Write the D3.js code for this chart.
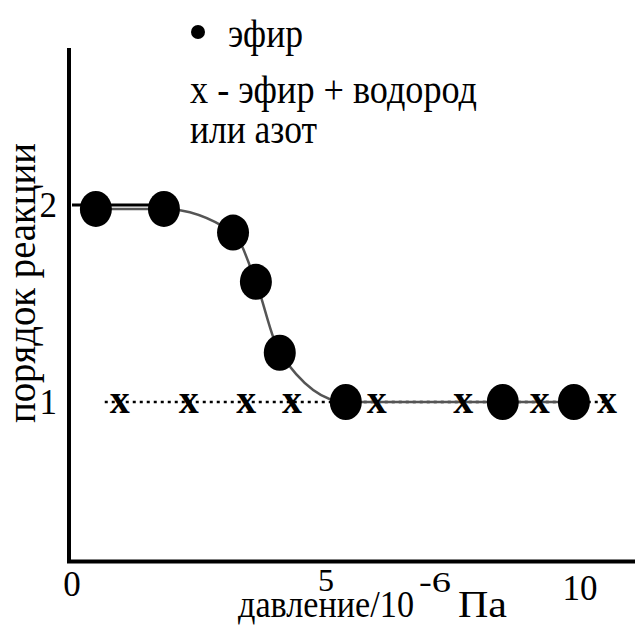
<!DOCTYPE html>
<html>
<head>
<meta charset="utf-8">
<script src="https://cdn.jsdelivr.net/npm/d3@7"></script>
<style>
  body { margin: 0; background: #fff; }
</style>
</head>
<body>
<script>
// ether only (circles)
var etherX = [0.47, 1.81, 3.17, 3.62, 4.09, 5.39, 8.48, 9.88];
var etherY = [1.98, 1.98, 1.86, 1.61, 1.25, 1.0, 1.0, 1.0];

// ether + hydrogen or nitrogen (x marks)
var mixX = [0.94, 2.30, 3.43, 4.33, 6.00, 7.70, 9.21, 10.53];
var mixY = [0.99, 0.99, 0.99, 0.99, 0.99, 0.99, 0.99, 0.99];

var xTicks = [0, 5, 10];
var yTicks = [1, 2];

var width = 635, height = 625;
var serif = "'Liberation Serif'";

var svg = d3.select("body").append("svg")
    .attr("width", width)
    .attr("height", height);

var x = d3.scaleLinear().domain([0, 10]).range([72, 580]);
var y = d3.scaleLinear().domain([1, 2]).range([402, 205]);

// helper for text that has to match the squeezed scan lettering
function label(px, py, str, size, len) {
    var t = svg.append("text")
        .attr("x", px).attr("y", py)
        .attr("font-family", serif)
        .attr("font-size", size)
        .text(str);
    if (len) t.attr("textLength", len).attr("lengthAdjust", "spacingAndGlyphs");
    return t;
}

// axes
svg.append("line")
    .attr("x1", 69).attr("x2", 69)
    .attr("y1", 48).attr("y2", 563)
    .attr("stroke", "#000").attr("stroke-width", 4);
svg.append("line")
    .attr("x1", 67).attr("x2", 635)
    .attr("y1", 561.5).attr("y2", 561.5)
    .attr("stroke", "#000").attr("stroke-width", 4);

// tick labels
svg.selectAll(".xt")
    .data(xTicks)
    .enter().append("text")
    .attr("class", "xt")
    .attr("x", function(d) { return x(d); })
    .attr("y", function(d) { return d == 5 ? 591 : d == 10 ? 600 : 596; })
    .attr("text-anchor", "middle")
    .attr("font-family", serif)
    .attr("font-size", function(d) { return d == 5 ? 32 : 35; })
    .text(function(d) { return d; });

svg.selectAll(".yt")
    .data(yTicks)
    .enter().append("text")
    .attr("class", "yt")
    .attr("x", 57)
    .attr("y", function(d) { return y(d) + 12; })
    .attr("text-anchor", "end")
    .attr("font-family", serif)
    .attr("font-size", 35)
    .text(function(d) { return d; });

// axis titles
svg.append("text")
    .attr("transform", "translate(35,283) rotate(-90)")
    .attr("text-anchor", "middle")
    .attr("font-family", serif)
    .attr("font-size", 39)
    .attr("textLength", 280)
    .attr("lengthAdjust", "spacingAndGlyphs")
    .text("порядок реакции");

label(238, 617, "давление/10", 37, 176);
label(419, 592, "-6", 29, 32);
label(458, 617, "Па", 37, 49);

// dotted line for the mixture series
var mixData = mixX.map(function(d, i) { return [d, mixY[i]]; });
svg.append("path")
    .datum(mixData)
    .attr("fill", "none")
    .attr("stroke", "#000")
    .attr("stroke-width", 2.5)
    .attr("stroke-dasharray", "3,4")
    .attr("d", d3.line()
        .x(function(d, i) { return i == 0 ? x(d[0]) - 15 : x(d[0]); })
        .y(function(d) { return y(1); }));

// ether curve
var etherData = etherX.map(function(d, i) { return [d, etherY[i]]; });
var etherLine = d3.line()
    .curve(d3.curveMonotoneX)
    .x(function(d) { return x(d[0]); })
    .y(function(d) { return y(d[1]); });

svg.append("path")
    .datum(etherData)
    .attr("fill", "none")
    .attr("stroke", "#555")
    .attr("stroke-width", 2.5)
    .attr("d", etherLine);

// first stretch of the curve is drawn solid
svg.append("path")
    .datum([[0, 2], [etherX[1], 2]])
    .attr("fill", "none")
    .attr("stroke", "#000")
    .attr("stroke-width", 3)
    .attr("d", d3.line()
        .x(function(d) { return x(d[0]); })
        .y(function(d) { return y(d[1]); }));

// x markers
svg.selectAll(".mx")
    .data(mixData)
    .enter().append("text")
    .attr("class", "mx")
    .attr("x", function(d) { return x(d[0]); })
    .attr("y", function(d) { return y(d[1]) + 9; })
    .attr("text-anchor", "middle")
    .attr("font-family", serif)
    .attr("font-size", 40)
    .attr("font-weight", "bold")
    .text("x");

// circles
svg.selectAll(".dot")
    .data(etherData)
    .enter().append("ellipse")
    .attr("class", "dot")
    .attr("cx", function(d) { return x(d[0]); })
    .attr("cy", function(d) { return y(d[1]); })
    .attr("rx", 16)
    .attr("ry", 18)
    .attr("fill", "#000");

// legend
svg.append("circle")
    .attr("cx", 198).attr("cy", 32).attr("r", 7)
    .attr("fill", "#000");
label(228, 47, "эфир", 39, 75);
label(190, 103, "x - эфир + водород", 39, 287);
label(190, 143, "или азот", 39, 127);
</script>
</body>
</html>
